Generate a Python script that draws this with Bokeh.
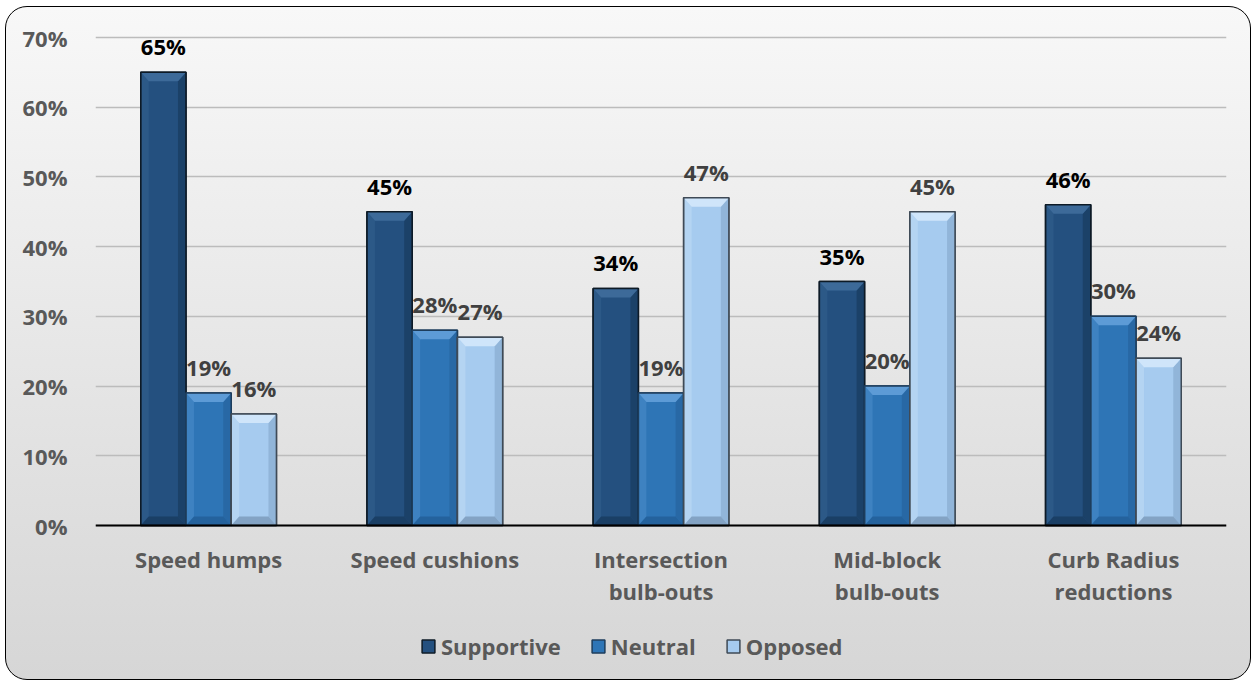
from bokeh.plotting import figure
from bokeh.models import Range1d, FixedTicker, PrintfTickFormatter, Legend, LegendItem, ColumnDataSource, Span
from bokeh.embed import file_html
from bokeh.resources import INLINE
from bokeh.core.properties import value

categories = ["Speed humps", "Speed cushions", "Intersection\nbulb-outs", "Mid-block\nbulb-outs", "Curb Radius\nreductions"]
series = ["Supportive", "Neutral", "Opposed"]
supportive = [65, 45, 34, 35, 46]
neutral = [19, 28, 19, 20, 30]
opposed = [16, 27, 47, 45, 24]
y_ticks = [0, 10, 20, 30, 40, 50, 60, 70]

values = [supportive, neutral, opposed]
fills = ["#24507f", "#2e75b6", "#a6cbef"]
lines = ["#0d1a26", "#1d3d5c", "#3f4a56"]
tops = ["#3d6a99", "#5d9bd6", "#cfe5fa"]
bottoms = ["#1a3d63", "#24609a", "#7f9fbf"]
rights = ["#1b3f66", "#2867a3", "#8fb3d6"]
label_colors = ["#000000", "#404040", "#404040"]
offsets = [-0.2, 0.0, 0.2]
bw = 0.2
FONT = "Open Sans"
FS = "22px"

W, H = 1246, 674
LEFT, RIGHT = 89, 26
TOP_PX = 30      # pixel row of 70% from figure top
ZERO_PX = 518    # pixel row of 0% from figure top
PAD = 3          # extra px above the 70% line
span_px = ZERO_PX - TOP_PX
px_y = 70.0 / span_px
ymin = -(H - ZERO_PX) * px_y
ymax = 70 + PAD * px_y

p = figure(width=W, height=H, x_range=Range1d(0, 5), y_range=Range1d(ymin, ymax),
           output_backend="svg", toolbar_location=None, x_axis_location=None,
           min_border_left=LEFT, min_border_right=RIGHT, min_border_top=TOP_PX - PAD,
           min_border_bottom=0)
p.background_fill_alpha = 0
p.border_fill_alpha = 0
p.outline_line_color = None
p.styles = {"background": "linear-gradient(#f8f8f8, #d6d6d6)", "border": "1.5px solid #000000",
            "border-radius": "22px", "margin-left": "5px", "margin-top": "6px"}

p.xgrid.grid_line_color = None
p.yaxis.ticker = FixedTicker(ticks=y_ticks)
p.yaxis.formatter = PrintfTickFormatter(format="%d%%")
p.yaxis.axis_line_color = None
p.yaxis.major_tick_line_color = None
p.yaxis.minor_tick_line_color = None
p.yaxis.major_label_text_font = FONT
p.yaxis.major_label_text_font_style = "bold"
p.yaxis.major_label_text_font_size = FS
p.yaxis.major_label_text_color = "#595959"
p.yaxis.major_label_standoff = 22
p.ygrid.grid_line_color = "#bcbcbc"
p.ygrid.grid_line_width = 1.5

# bevel sizes (px converted to data units)
px_x = 5.0 / (W - LEFT - RIGHT)
bx = 8 * px_x
by = 9 * px_y

items = []
for k, name in enumerate(series):
    xs = [i + 0.5 + offsets[k] for i in range(len(categories))]
    vals = values[k]
    src = ColumnDataSource(dict(x=xs, top=vals, label=[f"{v}%" for v in vals]))
    r = p.vbar(x="x", top="top", width=bw, source=src, fill_color=fills[k],
               line_color=lines[k], line_width=1.5)
    top_xs, top_ys, bot_xs, bot_ys, r_xs, r_ys, l_xs, l_ys = [], [], [], [], [], [], [], []
    for x, v in zip(xs, vals):
        x0, x1 = x - bw / 2, x + bw / 2
        top_xs.append([x0, x1, x1 - bx, x0 + bx])
        top_ys.append([v, v, v - by, v - by])
        bot_xs.append([x0, x1, x1 - bx, x0 + bx])
        bot_ys.append([0, 0, by, by])
        r_xs.append([x1, x1, x1 - bx, x1 - bx])
        r_ys.append([0, v, v - by, by])
        l_xs.append([x0, x0, x0 + bx, x0 + bx])
        l_ys.append([0, v, v - by, by])
    p.patches(l_xs, l_ys, fill_color=tops[k], fill_alpha=0.35, line_color=None)
    p.patches(r_xs, r_ys, fill_color=rights[k], fill_alpha=0.9, line_color=None)
    p.patches(bot_xs, bot_ys, fill_color=bottoms[k], fill_alpha=0.9, line_color=None)
    p.patches(top_xs, top_ys, fill_color=tops[k], fill_alpha=1.0, line_color=None)
    p.vbar(x="x", top="top", width=bw, source=src, fill_color=None,
           line_color=lines[k], line_width=1.5)
    p.text(x="x", y="top", text="label", source=src, y_offset=-11,
           text_align="center", text_baseline="bottom",
           text_font=value(FONT), text_font_style="bold", text_font_size=FS,
           text_color=label_colors[k])
    items.append(LegendItem(label=name, renderers=[r]))

# category axis
p.add_layout(Span(location=0, dimension="width", line_color="#000000", line_width=2))
cat_src = ColumnDataSource(dict(x=[i + 0.5 for i in range(len(categories))],
                                y=[0] * len(categories), text=categories))
p.text(x="x", y="y", text="text", source=cat_src, y_offset=18,
       text_align="center", text_baseline="top", text_line_height=1.08,
       text_font=value(FONT), text_font_style="bold", text_font_size=FS,
       text_color="#595959")

legend = Legend(items=items, orientation="horizontal", location=(325, 20),
                label_text_font=FONT, label_text_font_style="bold",
                label_text_font_size=FS, label_text_color="#595959",
                background_fill_alpha=0, border_line_color=None,
                glyph_width=16, glyph_height=16, spacing=29, label_standoff=5,
                margin=0, padding=2)
p.add_layout(legend, "center")

open("out.html", "w").write(file_html(p, INLINE))
